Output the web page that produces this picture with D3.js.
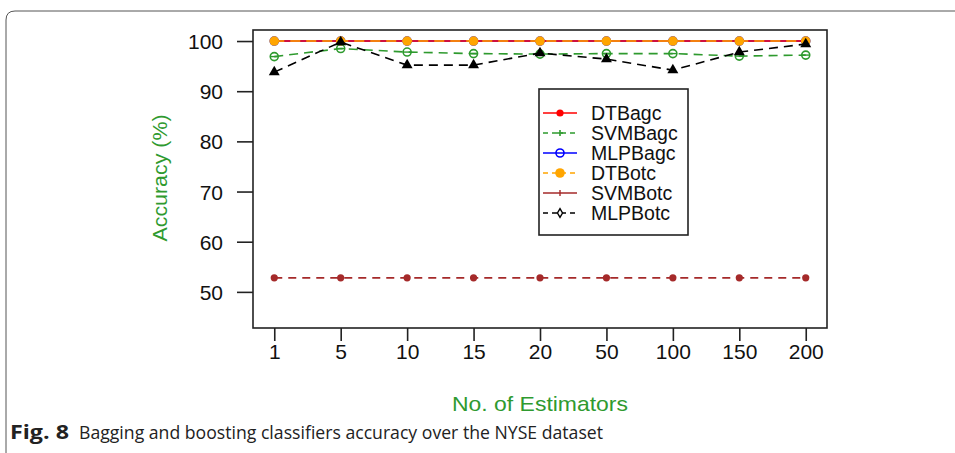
<!DOCTYPE html>
<html>
<head>
<meta charset="utf-8">
<script src="https://cdn.jsdelivr.net/npm/d3@7"></script>
<style>
  body { margin: 0; background: #fff; }
  svg { display: block; }
</style>
</head>
<body>
<div id="chart"></div>
<script>
// estimators on the x axis (categorical, evenly spaced)
var estimators = ["1", "5", "10", "15", "20", "50", "100", "150", "200"];
var yTicks = [50, 60, 70, 80, 90, 100];

// accuracy values
var dtBagc  = [100, 100, 100, 100, 100, 100, 100, 100, 100];
var svmBagc = [96.9, 98.5, 97.8, 97.5, 97.4, 97.5, 97.5, 97.0, 97.2];
var mlpBagc = [100, 100, 100, 100, 100, 100, 100, 100, 100];
var dtBotc  = [100, 100, 100, 100, 100, 100, 100, 100, 100];
var svmBotc = [52.8, 52.8, 52.8, 52.8, 52.8, 52.8, 52.8, 52.8, 52.8];
var mlpBotc = [93.8, 99.8, 95.2, 95.2, 97.6, 96.4, 94.2, 97.8, 99.4];

var seriesNames = ["DTBagc", "SVMBagc", "MLPBagc", "DTBotc", "SVMBotc", "MLPBotc"];

var W = 955, H = 453;
var plot = {left: 253, right: 827, top: 30, bottom: 328};
var axisGreen = "#2f9a2f";
var chartFont = "'Liberation Sans', Arial, sans-serif";

var series = [
  {name: "MLPBagc", values: mlpBagc, color: "#0000ff", dash: null,   marker: "ocircle"},
  {name: "DTBagc",  values: dtBagc,  color: "#ff0000", dash: null,   marker: "dot"},
  {name: "DTBotc",  values: dtBotc,  color: "#ffa500", dash: "10,6", marker: "bigdot"},
  {name: "SVMBagc", values: svmBagc, color: "#2e9a2e", dash: "9,6",  marker: "ocircleBar"},
  {name: "SVMBotc", values: svmBotc, color: "#a52a2a", dash: "8,6",  marker: "dot"},
  {name: "MLPBotc", values: mlpBotc, color: "#000000", dash: "9,6",  marker: "triangle"}
];

// legend styling follows the legend of the source figure
var legendStyle = {
  DTBagc:  {color: "#ff0000", dash: null,  marker: "dot"},
  SVMBagc: {color: "#2e9a2e", dash: "5,4", marker: "plus"},
  MLPBagc: {color: "#0000ff", dash: null,  marker: "ocircle"},
  DTBotc:  {color: "#ffa500", dash: "5,4", marker: "bigdot"},
  SVMBotc: {color: "#a52a2a", dash: null,  marker: "bar"},
  MLPBotc: {color: "#000000", dash: "5,4", marker: "diamond"}
};

var svg = d3.select("#chart").append("svg")
    .attr("width", W)
    .attr("height", H);

svg.append("rect").attr("width", W).attr("height", H).attr("fill", "#fff");

// rounded frame around the figure
svg.append("path")
    .attr("d", "M6," + H + " L6,20 Q6,11 15,11 L" + W + ",11")
    .attr("fill", "none")
    .attr("stroke", "#555")
    .attr("stroke-width", 1);

var x = d3.scaleLinear()
    .domain([-0.32, estimators.length - 1 + 0.32])
    .range([plot.left, plot.right]);

var y = d3.scaleLinear()
    .domain([42.8, 102.2])
    .range([plot.bottom, plot.top]);

var yAxis = d3.axisLeft(y)
    .tickValues(yTicks)
    .tickSize(16)
    .tickPadding(14);

var xAxis = d3.axisBottom(x)
    .tickValues(d3.range(estimators.length))
    .tickFormat(function(i) { return estimators[i]; })
    .tickSize(13)
    .tickPadding(14);

var gy = svg.append("g")
    .attr("transform", "translate(" + plot.left + ",0)")
    .call(yAxis);
gy.select(".domain").remove();

var gx = svg.append("g")
    .attr("transform", "translate(0," + plot.bottom + ")")
    .call(xAxis);
gx.select(".domain").remove();

svg.selectAll(".tick line").attr("stroke", "#222").attr("stroke-width", 1.6);
svg.selectAll(".tick text")
    .attr("fill", "#111")
    .style("font-family", chartFont)
    .style("font-size", "21px");
gy.selectAll(".tick text").attr("dy", "0.36em");
gx.selectAll(".tick text").attr("dy", "0.2em");

// plot box
svg.append("rect")
    .attr("x", plot.left)
    .attr("y", plot.top)
    .attr("width", plot.right - plot.left)
    .attr("height", plot.bottom - plot.top)
    .attr("fill", "none")
    .attr("stroke", "#222")
    .attr("stroke-width", 1.6);

function drawMarker(g, kind, cx, cy, color) {
  if (kind == "dot") {
    g.append("circle").attr("cx", cx).attr("cy", cy).attr("r", 3.6).attr("fill", color);
  } else if (kind == "bigdot") {
    g.append("circle").attr("cx", cx).attr("cy", cy).attr("r", 4.8).attr("fill", color);
  } else if (kind == "ocircle" || kind == "ocircleBar") {
    g.append("circle").attr("cx", cx).attr("cy", cy).attr("r", 4)
      .attr("fill", "none").attr("stroke", color).attr("stroke-width", 1.6);
    if (kind == "ocircleBar") {
      g.append("line").attr("x1", cx - 4).attr("x2", cx + 4).attr("y1", cy).attr("y2", cy)
        .attr("stroke", color).attr("stroke-width", 1.4);
    }
  } else if (kind == "triangle") {
    g.append("path")
      .attr("d", d3.symbol(d3.symbolTriangle, 52)())
      .attr("transform", "translate(" + cx + "," + cy + ")")
      .attr("fill", color);
  } else if (kind == "plus") {
    g.append("path").attr("d", "M" + (cx - 3) + "," + cy + "H" + (cx + 3) + "M" + cx + "," + (cy - 3) + "V" + (cy + 3))
      .attr("stroke", color).attr("stroke-width", 1.6);
  } else if (kind == "bar") {
    g.append("line").attr("x1", cx).attr("x2", cx).attr("y1", cy - 3).attr("y2", cy + 3)
      .attr("stroke", color).attr("stroke-width", 1.4);
  } else if (kind == "diamond") {
    g.append("path")
      .attr("d", d3.symbol(d3.symbolDiamond, 22)())
      .attr("transform", "translate(" + cx + "," + cy + ")")
      .attr("fill", "#fff").attr("stroke", color).attr("stroke-width", 1.4);
  }
}

var line = d3.line()
    .x(function(d, i) { return x(i); })
    .y(function(d) { return y(d); });

var lines = svg.append("g");
series.forEach(function(s) {
  var g = lines.append("g");
  g.append("path")
    .datum(s.values)
    .attr("d", line)
    .attr("fill", "none")
    .attr("stroke", s.color)
    .attr("stroke-width", 1.6)
    .attr("stroke-dasharray", s.dash);
  s.values.forEach(function(v, i) {
    drawMarker(g, s.marker, x(i), y(v), s.color);
  });
});

// legend
var lg = svg.append("g").attr("transform", "translate(539,89)");
lg.append("rect")
    .attr("width", 149)
    .attr("height", 146)
    .attr("fill", "#fff")
    .attr("stroke", "#222")
    .attr("stroke-width", 1.6);

seriesNames.forEach(function(name, i) {
  var st = legendStyle[name];
  var ly = 24 + i * 20;
  lg.append("line")
    .attr("x1", 4).attr("x2", 38).attr("y1", ly).attr("y2", ly)
    .attr("stroke", st.color).attr("stroke-width", 1.6)
    .attr("stroke-dasharray", st.dash);
  drawMarker(lg, st.marker, 21, ly, st.color);
  lg.append("text")
    .attr("x", 52).attr("y", ly)
    .attr("dy", "0.36em")
    .style("font-family", chartFont)
    .style("font-size", "19.5px")
    .attr("fill", "#111")
    .text(name);
});

// axis titles
svg.append("text")
    .attr("transform", "translate(167,178) rotate(-90)")
    .attr("text-anchor", "middle")
    .attr("textLength", 127)
    .attr("lengthAdjust", "spacingAndGlyphs")
    .style("font-family", chartFont)
    .style("font-size", "20px")
    .attr("fill", axisGreen)
    .text("Accuracy (%)");

svg.append("text")
    .attr("x", (plot.left + plot.right) / 2)
    .attr("y", 411)
    .attr("text-anchor", "middle")
    .attr("textLength", 176)
    .attr("lengthAdjust", "spacingAndGlyphs")
    .style("font-family", chartFont)
    .style("font-size", "21px")
    .attr("fill", axisGreen)
    .text("No. of Estimators");

// figure caption
svg.append("text")
    .attr("x", 10)
    .attr("y", 439)
    .attr("textLength", 59)
    .attr("lengthAdjust", "spacingAndGlyphs")
    .style("font-family", "'Open Sans', sans-serif")
    .style("font-size", "19px")
    .style("font-weight", "bold")
    .attr("fill", "#222")
    .text("Fig. 8");

svg.append("text")
    .attr("x", 79)
    .attr("y", 439)
    .attr("textLength", 524)
    .attr("lengthAdjust", "spacingAndGlyphs")
    .style("font-family", "'Open Sans', sans-serif")
    .style("font-size", "19px")
    .attr("fill", "#222")
    .text("Bagging and boosting classifiers accuracy over the NYSE dataset");
</script>
</body>
</html>
